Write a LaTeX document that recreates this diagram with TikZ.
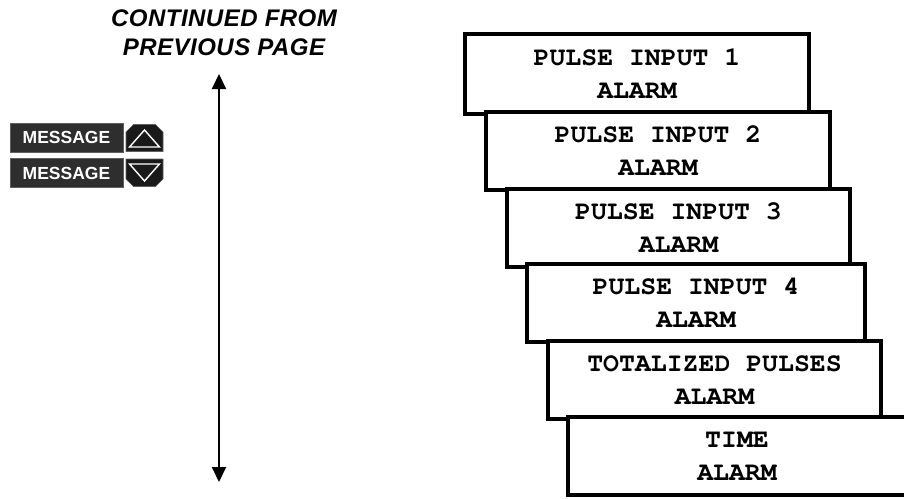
\documentclass[tikz,border=0pt]{standalone}
\usepackage{fontspec}
\usetikzlibrary{arrows.meta}
\newfontfamily\dispfont{TeX Gyre Cursor}
\newfontfamily\labelfont{Liberation Sans}
\newfontfamily\headfont{Liberation Sans}[LetterSpace=2]
\definecolor{keyfill}{RGB}{46,46,46}
\definecolor{keyedge}{RGB}{95,95,95}
\definecolor{btnfill}{RGB}{26,26,26}
\tikzset{
  screen/.style={draw=black, fill=white, line width=4pt, rectangle, outer sep=0pt,
    anchor=north west, align=center, inner sep=0pt,
    font=\dispfont\bfseries\fontsize{26.5}{33}\selectfont},
  msgkey/.style={draw=keyedge, fill=keyfill, line width=0.8pt, rectangle,
    minimum width=113pt, minimum height=29pt, inner sep=0pt, text=white,
    font=\labelfont\bfseries\fontsize{17.5}{20}\selectfont},
  btn/.style={draw=keyedge, fill=btnfill, line width=0.6pt},
  glyph/.style={draw=white, line width=1.4pt, line join=miter},
  flow/.style={line width=2pt, {Triangle[width=14pt,length=15pt]}-{Triangle[width=14pt,length=15pt]}},
  heading/.style={align=center, inner sep=0pt,
    font=\headfont\bfseries\itshape\fontsize{24}{29}\selectfont}
}
\begin{document}
\begin{tikzpicture}[x=1pt,y=-1pt]
\useasboundingbox (0,0) rectangle (904,498);

% heading and the scroll arrow
\node[heading] (cont) at (224,33) {CONTINUED FROM\\PREVIOUS PAGE};
\coordinate (arrtop) at (219,74);
\coordinate (arrbot) at (219,482);
\draw[flow] (arrtop) -- (arrbot);

% MESSAGE keys
\node[msgkey] (kup) at (66.5,137.5) {MESSAGE};
\node[msgkey] (kdn) at (66.5,173) {MESSAGE};
% up / down buttons
\draw[btn] (126,151.5) -- (126,132) -- (133.5,124.5) -- (155.5,124.5) -- (163,132) -- (163,151.5) -- cycle;
\draw[glyph] (129.5,147) -- (144.5,130) -- (159.5,147) -- cycle;
\draw[btn] (126,159) -- (126,179) -- (133.5,186.5) -- (155.5,186.5) -- (163,179) -- (163,159) -- cycle;
\draw[glyph] (129.5,164) -- (144.5,181) -- (159.5,164) -- cycle;

% stacked display screens
\node[screen, minimum width=344pt, minimum height=80pt] (s1) at (465,34)  {PULSE INPUT 1\\ALARM};
\node[screen, minimum width=344pt, minimum height=78pt] (s2) at (486,112) {PULSE INPUT 2\\ALARM};
\node[screen, minimum width=343pt, minimum height=78pt] (s3) at (507,189) {PULSE INPUT 3\\ALARM};
\node[screen, minimum width=338pt, minimum height=78pt] (s4) at (527,264) {PULSE INPUT 4\\ALARM};
\node[screen, minimum width=333pt, minimum height=78pt] (s5) at (548,341) {TOTALIZED PULSES\\ALARM};
\node[screen, minimum width=338pt, minimum height=78pt] (s6) at (568,417) {TIME\\ALARM};
\end{tikzpicture}
\end{document}
